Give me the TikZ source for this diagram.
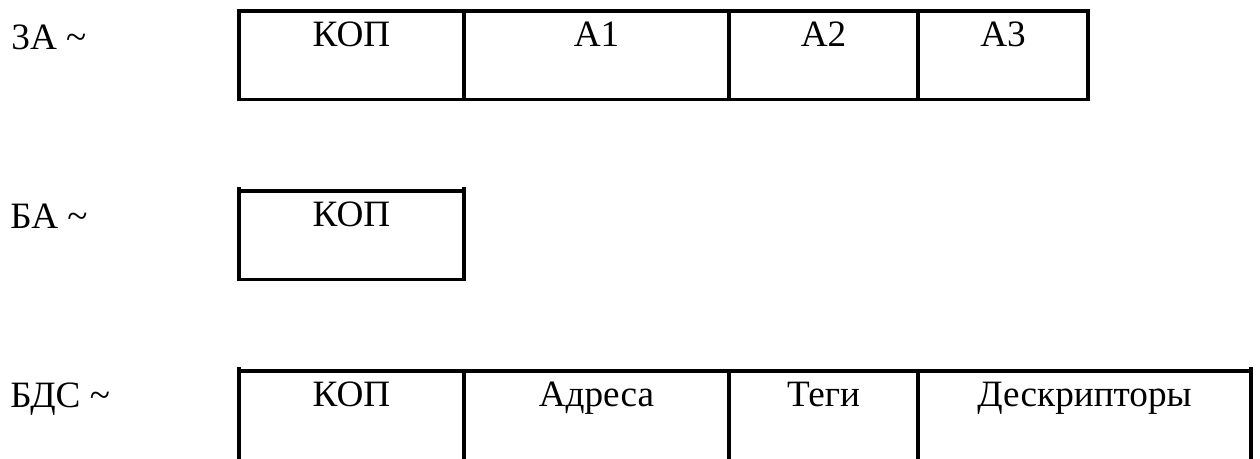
\documentclass[tikz,border=0pt]{standalone}
\usepackage{fontspec}
\setmainfont{Liberation Serif}
\begin{document}
\begin{tikzpicture}[x=0.5pt,y=-0.5pt,
  frame/.style={line width=1.9pt, line join=miter},
  txt/.style={font=\fontsize{18.6pt}{22pt}\selectfont, inner sep=0pt, anchor=base},
  lbl/.style={font=\fontsize{18.6pt}{22pt}\selectfont, inner sep=0pt, anchor=base west}]
\useasboundingbox (0,0) rectangle (1260,459);
% row 1: three-address
\draw[frame] (239,11) rectangle (1088,99.5);
\draw[frame] (464,11) -- (464,99.5);
\draw[frame] (729,11) -- (729,99.5);
\draw[frame] (918,11) -- (918,99.5);
\node[lbl] (l1) at (11,50) {3А \textasciitilde};
\node[txt] (r1a) at (351.5,47) {КОП};
\node[txt] (r1b) at (596.5,47) {А1};
\node[txt] (r1c) at (823.5,47) {А2};
\node[txt] (r1d) at (1003,47) {А3};
% row 2: address-free
\draw[frame] (239,191) rectangle (464,279.5);
\draw[frame] (239,187.5) -- (239,191);
\draw[frame] (464,187.5) -- (464,191);
\node[lbl] (l2) at (10,229) {БА \textasciitilde};
\node[txt] (r2a) at (351.5,227) {КОП};
% row 3: descriptor
\draw[frame] (239,459) -- (239,371) -- (1251,371) -- (1251,459);
\draw[frame] (239,367.5) -- (239,371);
\draw[frame] (1251,367.5) -- (1251,371);
\draw[frame] (464,371) -- (464,459);
\draw[frame] (729,371) -- (729,459);
\draw[frame] (918,371) -- (918,459);
\node[lbl] (l3) at (10,408) {БДС \textasciitilde};
\node[txt] (r3a) at (351.5,407) {КОП};
\node[txt] (r3b) at (596.5,407) {Адреса};
\node[txt] (r3c) at (823.5,407) {Теги};
\node[txt] (r3d) at (1084.5,407) {Дескрипторы};
\end{tikzpicture}
\end{document}
